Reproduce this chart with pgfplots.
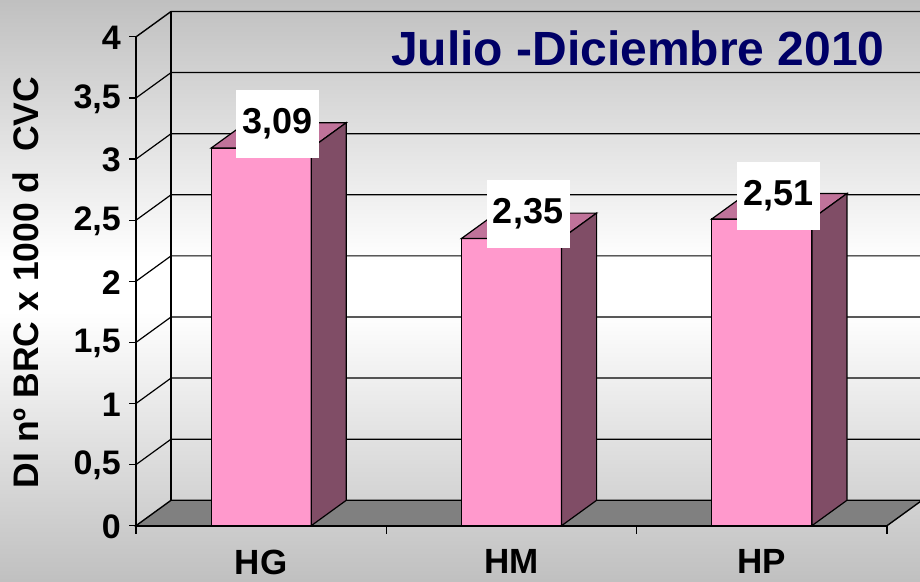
\documentclass[border=0pt]{standalone}
\usepackage{fontspec}
\setmainfont{Liberation Sans}
\usepackage{pgfplots}
\pgfplotsset{compat=1.18}
\definecolor{bggray}{HTML}{C0C0C0}
\definecolor{barfront}{HTML}{FF99CC}
\definecolor{bartop}{HTML}{C0739A}
\definecolor{barside}{HTML}{804D66}
\definecolor{floorgray}{HTML}{808080}
\definecolor{titleblue}{HTML}{000066}
\pgfdeclareverticalshading{pagebg}{100bp}{color(0bp)=(bggray); color(25bp)=(bggray); color(48.2bp)=(white); color(52.5bp)=(white); color(75bp)=(bggray); color(100bp)=(bggray)}
\begin{document}
\begin{tikzpicture}
\path[use as bounding box,clip] (0,0) rectangle (920pt,581pt);
\shade[shading=pagebg] (0,0) rectangle (920pt,581pt);
\begin{axis}[
  at={(136pt,55.3pt)},anchor=south west,
  scale only axis,width=751pt,height=488.8pt,
  xmin=0,xmax=3,ymin=0,ymax=4,clip=false,
  axis lines*=left,axis line style={-,line width=1.6pt},
  tick align=outside,
  xtick={0.5,1.5,2.5},xticklabels={HG,HM,HP},
  minor xtick={0,1,2,3},
  major x tick style={draw=none},
  minor x tick style={line width=1.2pt,black},
  minor tick length=8pt,
  ytick={0,0.5,1,1.5,2,2.5,3,3.5,4},
  y tick style={line width=1.2pt,black},
  major tick length=7pt,
  /pgf/number format/use comma,
  /pgf/number format/assume math mode=true,
  yticklabel style={font=\fontsize{34}{40}\selectfont\bfseries,inner sep=0pt,xshift=-8pt,yshift=-1pt},
  xticklabel style={font=\fontsize{35}{40}\selectfont\bfseries,inner sep=0pt,yshift=-17pt},
  ylabel={DI nº BRC x 1000 d\ \ CVC},
  every axis y label/.style={at={(axis description cs:-0.1472,0.4977)},rotate=90,anchor=center,
    font=\fontsize{35.5}{40}\selectfont\bfseries},
]
% walls and gridlines
\addplot[line width=1.2pt,black] coordinates {(0,0.5)(0.14,0.708)(3.14,0.708)};
\addplot[line width=1.2pt,black] coordinates {(0,1)(0.14,1.208)(3.14,1.208)};
\addplot[line width=1.2pt,black] coordinates {(0,1.5)(0.14,1.708)(3.14,1.708)};
\addplot[line width=1.2pt,black] coordinates {(0,2)(0.14,2.208)(3.14,2.208)};
\addplot[line width=1.2pt,black] coordinates {(0,2.5)(0.14,2.708)(3.14,2.708)};
\addplot[line width=1.2pt,black] coordinates {(0,3)(0.14,3.208)(3.14,3.208)};
\addplot[line width=1.2pt,black] coordinates {(0,3.5)(0.14,3.708)(3.14,3.708)};
\addplot[line width=1.4pt,black] coordinates {(0,4)(0.14,4.208)(3.14,4.208)};
\addplot[line width=1.4pt,black] coordinates {(0.14,0.208)(0.14,4.208)};
% floor
\addplot[fill=floorgray,draw=black,line width=1.4pt] coordinates {(0,0)(3,0)(3.14,0.208)(0.14,0.208)} --cycle;
% HG
\addplot[fill=barfront,draw=black,line width=1.2pt] coordinates {(0.3,0)(0.7,0)(0.7,3.09)(0.3,3.09)} --cycle;
\addplot[fill=bartop,draw=black,line width=1.2pt] coordinates {(0.3,3.09)(0.7,3.09)(0.84,3.298)(0.44,3.298)} --cycle;
\addplot[fill=barside,draw=black,line width=1.2pt] coordinates {(0.7,0)(0.84,0.208)(0.84,3.298)(0.7,3.09)} --cycle;
% HM
\addplot[fill=barfront,draw=black,line width=1.2pt] coordinates {(1.3,0)(1.7,0)(1.7,2.35)(1.3,2.35)} --cycle;
\addplot[fill=bartop,draw=black,line width=1.2pt] coordinates {(1.3,2.35)(1.7,2.35)(1.84,2.558)(1.44,2.558)} --cycle;
\addplot[fill=barside,draw=black,line width=1.2pt] coordinates {(1.7,0)(1.84,0.208)(1.84,2.558)(1.7,2.35)} --cycle;
% HP
\addplot[fill=barfront,draw=black,line width=1.2pt] coordinates {(2.3,0)(2.7,0)(2.7,2.51)(2.3,2.51)} --cycle;
\addplot[fill=bartop,draw=black,line width=1.2pt] coordinates {(2.3,2.51)(2.7,2.51)(2.84,2.718)(2.44,2.718)} --cycle;
\addplot[fill=barside,draw=black,line width=1.2pt] coordinates {(2.7,0)(2.84,0.208)(2.84,2.718)(2.7,2.51)} --cycle;
% labels
\tikzset{vallabel/.style={fill=white,minimum width=83pt,minimum height=68pt,inner sep=0pt,
  font=\fontsize{36}{40}\selectfont\bfseries}}
\node[vallabel] at (axis cs:0.565,3.288) {3,09};
\node[vallabel] at (axis cs:1.566,2.550) {2,35};
\node[vallabel] at (axis cs:2.567,2.698) {2,51};
\node[text=titleblue,font=\fontsize{48}{54}\selectfont\bfseries] at (axis cs:2.005,3.91) {Julio -Diciembre 2010};
\end{axis}
\end{tikzpicture}
\end{document}
